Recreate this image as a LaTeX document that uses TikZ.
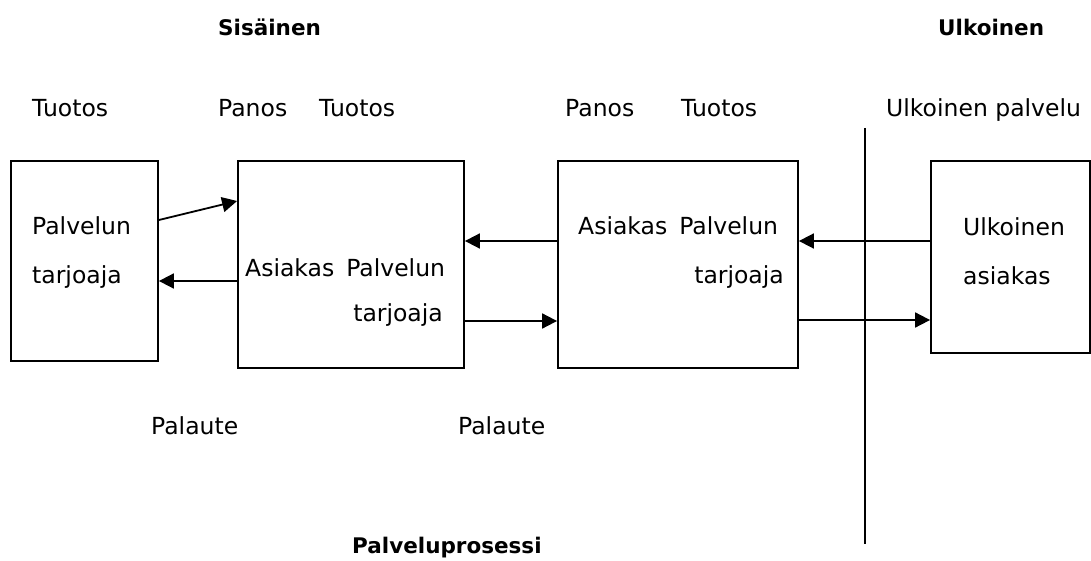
\documentclass[tikz,border=0pt]{standalone}
\usepackage{fontspec}
\setmainfont{DejaVu Sans}
\usetikzlibrary{arrows.meta}
\begin{document}
\begin{tikzpicture}[x=1pt,y=-1pt,
  box/.style={draw,line width=1.8pt,inner sep=0pt},
  lbl/.style={inner sep=0pt,font=\fontsize{23.5}{28}\selectfont},
  hdr/.style={inner sep=0pt,font=\fontsize{21.5}{26}\selectfont\bfseries},
  conn/.style={line width=1.8pt,-{Triangle[length=15pt,width=15pt]}}]
\useasboundingbox (0,0) rectangle (1091,561);
% boxes
\node[box,minimum width=147pt,minimum height=200pt] (b1) at (84.5,261) {};
\node[box,minimum width=226pt,minimum height=207pt] (b2) at (351,264.5) {};
\node[box,minimum width=240pt,minimum height=207pt] (b3) at (678,264.5) {};
\node[box,minimum width=159pt,minimum height=192pt] (b4) at (1010.5,257) {};
% divider
\coordinate (vt) at (865,128);
\coordinate (vb) at (865,544);
\draw[line width=1.8pt] (vt) -- (vb);
% headers
\node[hdr,anchor=base west] (sis) at (218,36) {Sisäinen};
\node[hdr,anchor=base west] (ulk) at (938,36) {Ulkoinen};
\node[hdr,anchor=base west] (pp) at (352,553) {Palveluprosessi};
% top labels
\node[lbl,anchor=base west] (t1) at (32,117) {Tuotos};
\node[lbl,anchor=base west] (p2) at (218,117) {Panos};
\node[lbl,anchor=base west] (t2) at (319,117) {Tuotos};
\node[lbl,anchor=base west] (p3) at (565,117) {Panos};
\node[lbl,anchor=base west] (t3) at (681,117) {Tuotos};
\node[lbl,anchor=base west] (up) at (886,117) {Ulkoinen palvelu};
% box texts
\node[lbl,anchor=base west] (b1a) at (32,235) {Palvelun};
\node[lbl,anchor=base west] (b1b) at (32,283) {tarjoaja};
\node[lbl,anchor=base west] (b2a) at (245,276) {Asiakas\hspace{12pt}Palvelun};
\node[lbl,anchor=base east] (b2b) at (443,321) {tarjoaja};
\node[lbl,anchor=base west] (b3a) at (578,235) {Asiakas\hspace{12pt}Palvelun};
\node[lbl,anchor=base east] (b3b) at (784,283) {tarjoaja};
\node[lbl,anchor=base west] (b4a) at (963,236) {Ulkoinen};
\node[lbl,anchor=base west] (b4b) at (963,284) {asiakas};
% feedback
\node[lbl,anchor=base west] (f1) at (151,434) {Palaute};
\node[lbl,anchor=base west] (f2) at (458,434) {Palaute};
% connectors
\draw[conn] (b1.east |- 0,220) -- (b2.west |- 0,201);
\draw[conn] (b2.west |- 0,281) -- (b1.east |- 0,281);
\draw[conn] (b3.west |- 0,241) -- (b2.east |- 0,241);
\draw[conn] (b2.east |- 0,321) -- (b3.west |- 0,321);
\draw[conn] (b4.west |- 0,241) -- (b3.east |- 0,241);
\draw[conn] (b3.east |- 0,320) -- (b4.west |- 0,320);
\end{tikzpicture}
\end{document}
